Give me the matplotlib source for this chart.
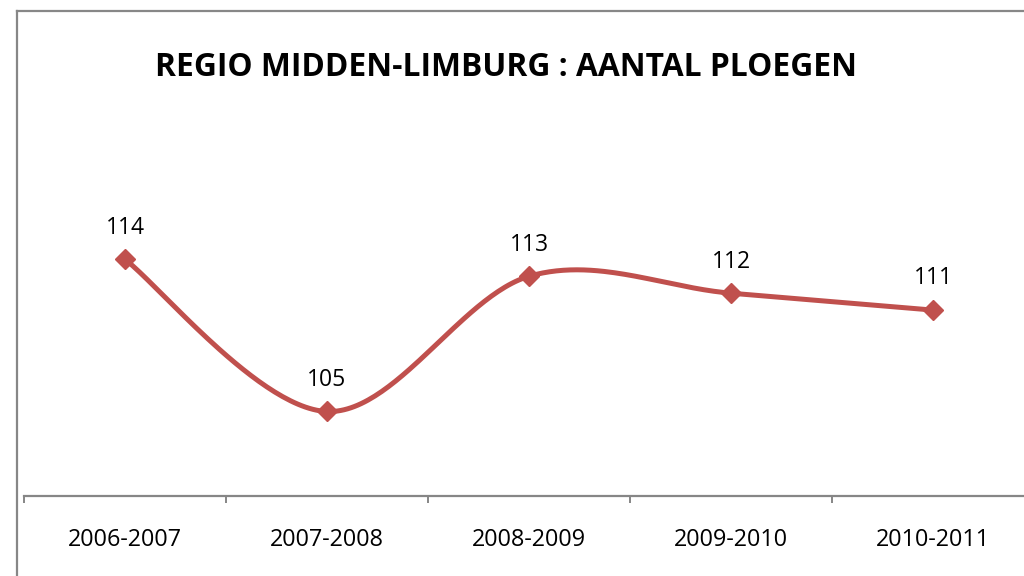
import matplotlib
matplotlib.use("Agg")
import matplotlib.pyplot as plt
import numpy as np
from matplotlib.lines import Line2D

categories = ["2006-2007", "2007-2008", "2008-2009", "2009-2010", "2010-2011"]
values = [114, 105, 113, 112, 111]
title = "REGIO MIDDEN-LIMBURG : AANTAL PLOEGEN"

plt.rcParams['font.family'] = ['Open Sans', 'DejaVu Sans']

W, H = 1024, 576
fig = plt.figure(figsize=(W / 100, H / 100), dpi=100)
fig.patch.set_facecolor('white')

# axes: x from 24px to 1034px, y baseline at 496px, top at 158px
left_px, right_px, bottom_px, top_px = 24, 1034, 496, 158
ax = fig.add_axes([left_px / W, 1 - bottom_px / H, (right_px - left_px) / W, (bottom_px - top_px) / H])
ax.set_xlim(-0.5, len(categories) - 0.5)
ax.set_ylim(100, 120)
ax.patch.set_alpha(0)

# smooth line (Catmull-Rom style Bezier, as in spreadsheet smoothing)
x = np.arange(len(values), dtype=float)
y = np.array(values, dtype=float)
P = np.column_stack([x, y])
pts = []
t = np.linspace(0, 1, 60)
n = len(P)
for i in range(n - 1):
    p0 = P[i - 1] if i > 0 else P[i]
    p1 = P[i]
    p2 = P[i + 1]
    p3 = P[i + 2] if i + 2 < n else P[i + 1]
    c1 = p1 + (p2 - p0) / 6.0
    c2 = p2 - (p3 - p1) / 6.0
    b = ((1 - t) ** 3)[:, None] * p1 + (3 * (1 - t) ** 2 * t)[:, None] * c1 \
        + (3 * (1 - t) * t ** 2)[:, None] * c2 + (t ** 3)[:, None] * p2
    pts.append(b)
curve = np.vstack(pts)
red = '#C0504D'
ax.plot(curve[:, 0], curve[:, 1], color=red, lw=3.6, solid_capstyle='round', zorder=3)
ax.plot(x, y, linestyle='none', marker='D', markersize=10, color=red, zorder=4)

for xi, yi in zip(x, y):
    ax.annotate(str(int(yi)), (xi, yi), xytext=(0, 18.5), textcoords='offset points',
                ha='center', va='baseline', fontsize=16.5, color='black')

# axes styling
for s in ['top', 'right', 'left']:
    ax.spines[s].set_visible(False)
ax.spines['bottom'].set_color('#868686')
ax.spines['bottom'].set_linewidth(1.6)
ax.set_yticks([])
ax.set_xticks(np.arange(len(categories) + 1) - 0.5)
ax.set_xticklabels([])
ax.tick_params(axis='x', direction='out', length=5, width=1.4, color='#868686')
ax.set_xticks(x, minor=True)
ax.set_xticklabels(categories, minor=True, fontsize=16.8, color='black')
ax.tick_params(axis='x', which='minor', length=0, pad=23)

# title
fig.text(506 / W, 1 - 68 / H, title, ha='center', va='center', fontsize=22.9,
         fontweight='bold', color='black')

# chart border (left and top edges visible)
bc = '#878787'
fig.add_artist(Line2D([17 / W, 17 / W], [1 - 11 / H, 0], transform=fig.transFigure, color=bc, lw=1.6))
fig.add_artist(Line2D([17 / W, 1], [1 - 11 / H, 1 - 11 / H], transform=fig.transFigure, color=bc, lw=1.6))

fig.savefig('out.png', dpi=100, facecolor='white')
